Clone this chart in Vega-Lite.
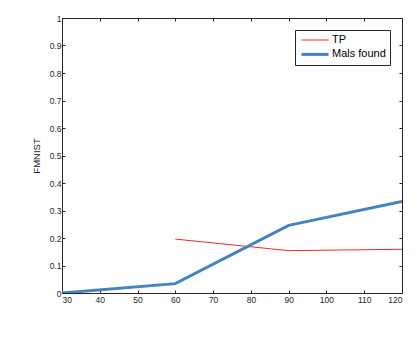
{
  "$schema": "https://vega.github.io/schema/vega-lite/v6.json",
  "width": 340,
  "height": 275,
  "autosize": "none",
  "padding": {"left": 62, "top": 18, "right": 13, "bottom": 47},
  "background": "white",
  "config": {
    "font": "Liberation Sans",
    "view": {"stroke": "#262626", "strokeWidth": 1},
    "axis": {
      "domainColor": "#262626",
      "tickColor": "#262626",
      "labelColor": "#262626",
      "titleColor": "#262626",
      "labelFont": "Liberation Sans",
      "titleFont": "Liberation Sans",
      "labelFontSize": 8.5,
      "titleFontSize": 9.5,
      "titleFontWeight": "normal",
      "grid": false,
      "tickSize": -3,
      "labelPadding": 4
    }
  },
  "data": {
    "values": [
      {"x": 60, "y": 0.196, "series": "TP"},
      {"x": 90, "y": 0.154, "series": "TP"},
      {"x": 120, "y": 0.159, "series": "TP"},
      {"x": 30, "y": 0.0, "series": "Mals found"},
      {"x": 60, "y": 0.034, "series": "Mals found"},
      {"x": 90, "y": 0.246, "series": "Mals found"},
      {"x": 120, "y": 0.333, "series": "Mals found"}
    ]
  },
  "layer": [
    {
      "mark": {"type": "line", "clip": true},
      "encoding": {
        "x": {"field": "x", "type": "quantitative", "scale": {"domain": [30, 120], "nice": false},
              "axis": {"title": null, "values": [30,40,50,60,70,80,90,100,110,120], "orient": "bottom", "labelPadding": 5}},
        "y": {"field": "y", "type": "quantitative", "scale": {"domain": [0, 1], "nice": false},
              "axis": {"title": "FMNIST", "values": [0,0.1,0.2,0.3,0.4,0.5,0.6,0.7,0.8,0.9,1], "orient": "left", "titlePadding": 8,
                       "labelExpr": "format(datum.value, '~g')"}},
        "color": {"field": "series", "type": "nominal",
                  "scale": {"domain": ["TP", "Mals found"], "range": ["#ee2a2a", "#4483c2"]},
                  "legend": {"title": null, "orient": "none", "legendX": 233, "legendY": 12,
                             "symbolType": "M-0.82,0H4.09", "symbolSize": 121, "labelFontSize": 11, "labelColor": "#000000",
                             "strokeColor": "#262626", "fillColor": "white", "padding": 4, "rowPadding": 2.4, "labelOffset": 19,
                             "labelFont": "Liberation Sans"}},
        "strokeWidth": {"field": "series", "type": "nominal",
                        "scale": {"domain": ["TP", "Mals found"], "range": [1, 3]},
                        "legend": {"title": null, "orient": "none", "legendX": 233, "legendY": 12,
                             "symbolType": "M-0.82,0H4.09", "symbolSize": 121, "labelFontSize": 11, "labelColor": "#000000",
                             "strokeColor": "#262626", "fillColor": "white", "padding": 4, "rowPadding": 2.4, "labelOffset": 19,
                             "labelFont": "Liberation Sans"}}
      }
    },
    {
      "mark": {"type": "point", "opacity": 0},
      "encoding": {
        "x": {"field": "x", "type": "quantitative", "scale": {"domain": [30, 120], "nice": false},
              "axis": {"title": null, "values": [30,40,50,60,70,80,90,100,110,120], "orient": "top", "labels": false, "domain": false}},
        "y": {"field": "y", "type": "quantitative", "scale": {"domain": [0, 1], "nice": false},
              "axis": {"title": null, "values": [0,0.1,0.2,0.3,0.4,0.5,0.6,0.7,0.8,0.9,1], "orient": "right", "labels": false, "domain": false}}
      }
    }
  ],
  "resolve": {"axis": {"x": "independent", "y": "independent"}}
}
